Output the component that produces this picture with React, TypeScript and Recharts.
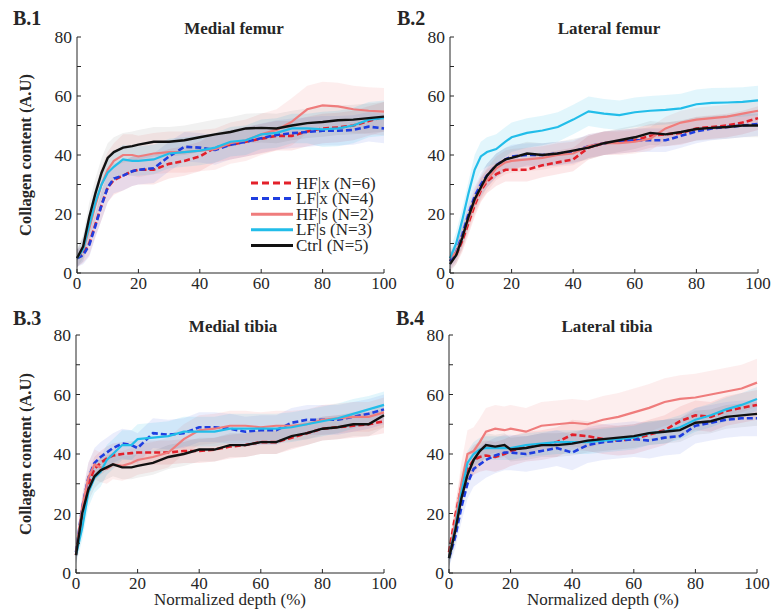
import React from "react";
import { Area, ComposedChart, Label, Line, XAxis, YAxis } from "recharts";

const FONT = "'Liberation Serif', 'DejaVu Serif', serif";
const INK = "#262626";

const depth = [0, 2, 4, 6, 8, 10, 12, 15, 18, 20, 25, 30, 35, 40, 45, 50, 55, 60, 65, 70, 75, 80, 85, 90, 95, 100];
const xTicks = [0, 20, 40, 60, 80, 100];
const yTicks = [0, 10, 20, 30, 40, 50, 60, 70, 80];

// Medial femur
const mfHFx = [5, 6.5, 10, 16.5, 23, 29, 31.5, 33, 34.5, 35, 35, 37, 38, 39.5, 42.5, 43.5, 44.5, 45.5, 46.5, 46.5, 48, 49, 49.3, 50, 51.5, 53];
const mfLFx = [5, 6, 9.5, 16, 23, 29, 32, 33, 34.5, 35, 35.5, 39.5, 42.8, 42.5, 41.7, 43.5, 44.5, 45.7, 46.8, 47.4, 47.8, 48.2, 48.2, 48.5, 49.6, 49];
const mfHFs = [5, 8, 15, 23, 30, 35, 38, 40, 40, 39.5, 40.5, 41, 41, 41.5, 42, 44, 45, 47, 48.5, 51.3, 55.5, 56.8, 56.5, 55.5, 55, 54.7];
const mfLFs = [5, 8, 16, 24, 30, 34, 36, 38.5, 38, 38, 38.5, 40.5, 41, 41.5, 42.5, 44.5, 45, 47, 47.5, 49, 49, 48.7, 49, 50, 52, 52.5];
const mfCtrl = [5, 9, 19, 27, 34, 39, 41, 42.5, 43, 43.5, 44.5, 44.5, 45, 46, 47, 47.8, 49, 49.2, 49, 50, 50.8, 51.2, 51.8, 52, 52.5, 53];
const mfHFxSd = [3, 3, 4, 4, 5, 5, 5, 5, 5, 5, 5, 5, 5, 5, 5, 5, 5, 5, 5, 5, 5, 5, 5, 5, 5, 5];
const mfLFxSd = [3, 3, 4, 4, 5, 5, 5, 5, 5, 5, 5, 5, 5, 5, 5, 5, 5, 5, 5, 5, 5, 5, 5, 5, 5, 5];
const mfHFsSd = [3, 4, 5, 6, 6, 6, 6, 7, 7, 7, 7, 7, 7, 7, 7, 7, 7, 7, 7, 8, 8, 8, 8, 8, 8, 8];
const mfLFsSd = [3, 4, 5, 5, 5, 5, 5, 5, 5, 5, 5, 5, 5, 5, 5, 5, 5, 5, 5, 5, 5, 6, 6, 6, 6, 6];
const mfCtrlSd = [3, 4, 5, 5, 5, 5, 5, 5, 5, 5, 5, 5, 5, 5, 5, 5, 5, 5, 5, 5, 5, 5, 5, 5, 5, 5];

// Lateral femur
const lfHFx = [4, 6, 11, 17, 23, 28, 31, 33.5, 35, 35, 35, 36.5, 37.5, 38.5, 42.5, 44, 44.5, 45, 46.5, 47, 47.5, 49, 49.5, 50, 51, 52.5];
const lfLFx = [4, 7, 13, 20, 26, 30, 33, 36.5, 38.5, 39.5, 40, 40, 40.5, 41, 43, 44, 44.5, 45, 45, 45, 46.5, 48, 49, 49.5, 50, 50.5];
const lfHFs = [5, 7, 12, 18, 24, 28.5, 31.5, 35.5, 37.5, 38, 38.5, 39, 40, 40.5, 43, 44, 44, 44.5, 45.5, 49, 51, 52, 52.5, 53, 54, 55];
const lfLFs = [5, 10, 18, 27, 35, 39.5, 41, 42, 44.5, 46, 47.5, 48.3, 49.5, 52, 54.8, 54, 53.5, 54.5, 55, 55.3, 55.8, 57.2, 57.7, 57.8, 58, 58.5];
const lfCtrl = [3, 6, 12, 19, 25, 29, 33, 36.5, 38.5, 39, 40.5, 40, 40.5, 41.5, 42.5, 44, 45, 46, 47.5, 47, 47.8, 48.8, 49.2, 49.5, 50, 50];
const lfHFxSd = [3, 3, 4, 4, 4, 4, 4, 4, 4, 4, 4, 4, 4, 4, 4, 4, 4, 4, 4, 4, 4, 4, 4, 4, 4, 4];
const lfLFxSd = [3, 3, 4, 4, 4, 4, 4, 4, 4, 4, 4, 4, 4, 4, 4, 4, 4, 4, 4, 4, 4, 4, 4, 4, 4, 4];
const lfHFsSd = [3, 3, 4, 4, 4, 4, 4, 4, 4, 4, 4, 4, 4, 4, 4, 4, 4, 4, 4, 4, 4, 4, 4, 4, 4, 4];
const lfLFsSd = [3, 4, 4, 4, 5, 5, 5, 5, 5, 5, 5, 5, 5, 5, 5, 5, 5, 5, 5, 5, 5, 5, 5, 5, 5, 5];
const lfCtrlSd = [3, 3, 4, 4, 4, 4, 4, 4, 4, 4, 4, 4, 4, 4, 4, 4, 4, 4, 4, 4, 4, 4, 4, 4, 4, 4];

// Medial tibia
const mtHFx = [6, 20, 30, 35, 37, 38.5, 39.5, 40, 40.3, 40.5, 40.5, 40.5, 41, 41, 41.5, 42.5, 43, 44, 44, 45.5, 47, 48.5, 49, 49.5, 50, 51];
const mtLFx = [7, 22, 32, 37, 39, 40.5, 42, 43.5, 43, 42, 47, 46.5, 47, 49, 49, 48.5, 47.5, 48, 48, 50.5, 51.5, 51.5, 51.5, 52.5, 53.5, 55];
const mtHFs = [7, 22, 32, 36.5, 35.5, 35, 36.5, 36, 37, 38, 39, 40.5, 45, 48, 48.5, 49.5, 49.5, 49, 49.5, 49.5, 50, 51.5, 52, 52.5, 52.5, 54];
const mtLFs = [6, 15, 27, 32, 34, 38, 40, 43, 43, 45, 45.5, 46, 47.5, 47.5, 47.5, 48.5, 48.5, 48.5, 48.5, 49, 50, 51, 52, 53.5, 55, 56.5];
const mtCtrl = [6, 20, 28, 32.5, 34.5, 35.5, 36.5, 35.5, 35.5, 36, 37, 39, 40, 41.5, 41.5, 43, 43, 44, 44, 46, 47, 48.5, 49, 50, 50, 53];
const mtHFxSd = [3, 4, 4, 4, 4, 4, 4, 4, 4, 4, 4, 4, 4, 4, 4, 4, 4, 4, 4, 4, 4, 4, 4, 4, 4, 4];
const mtLFxSd = [3, 4, 5, 5, 5, 5, 5, 5, 5, 5, 5, 5, 5, 5, 5, 5, 5, 5, 5, 5, 5, 5, 5, 5, 5, 5];
const mtHFsSd = [3, 4, 5, 5, 5, 5, 5, 5, 5, 5, 5, 5, 5, 5, 5, 5, 5, 5, 5, 5, 5, 5, 5, 5, 5, 5];
const mtLFsSd = [3, 4, 5, 5, 5, 5, 5, 5, 5, 5, 5, 5, 5, 5, 5, 5, 5, 5, 5, 5, 5, 5, 5, 5, 4.5, 4.5];
const mtCtrlSd = [3, 4, 4, 4, 4, 4, 4, 4, 4, 4, 4, 4, 4, 4, 4, 4, 4, 4, 4, 4, 4, 4, 4, 4, 4, 4];

// Lateral tibia
const ltHFx = [7, 19, 29, 35, 38, 39, 39.5, 39, 40, 41, 42.5, 43, 44, 46.5, 46, 45, 44.5, 45, 46.5, 48, 51, 53, 52.5, 54.5, 55.5, 56.5];
const ltLFx = [5, 12, 22, 30, 35, 36.5, 38, 39.5, 40.5, 40.5, 40, 41, 42, 40.5, 43, 44, 44.5, 45, 44.5, 45.5, 46, 49.5, 50.5, 51.5, 52, 52];
const ltHFs = [5, 17, 30, 40, 41, 44, 47.5, 48.5, 48, 48.5, 47.5, 49.5, 50, 50.5, 50, 51.5, 52.5, 54, 55.5, 57.5, 58.5, 59, 60, 61, 62, 64];
const ltLFs = [5, 15, 27, 37, 40, 41.5, 42, 42, 42, 42, 43, 43.5, 44, 44, 44, 44.5, 45, 45.5, 47, 47.5, 49, 51.5, 53, 55, 56.5, 58.5];
const ltCtrl = [5, 14, 25, 33, 38, 41, 43, 42.5, 43, 41.5, 42, 43, 43, 43.5, 44.5, 45, 45.5, 46, 47, 47.5, 48, 50.5, 51, 52.5, 53, 53.5];
const ltHFxSd = [3, 4, 5, 5, 5, 5, 5, 5, 5, 5, 5, 5, 5, 5, 5, 5, 5, 5, 5, 5, 5, 5, 5, 5, 5, 5];
const ltLFxSd = [3, 4, 5, 5, 6, 6, 6, 6, 6, 6, 6, 6, 6, 6, 6, 6, 6, 6, 6, 6, 6, 6, 6, 6, 6, 6];
const ltHFsSd = [3, 5, 7, 8, 8, 8, 8, 8, 8, 8, 8, 8, 8, 8, 8, 8, 8, 8, 8, 8, 8, 8, 8, 8, 8, 8];
const ltLFsSd = [3, 4, 4, 4, 4, 4, 4, 4, 4, 4, 4, 4, 4, 4, 4, 4, 4, 4, 4, 4, 4, 4, 4, 4, 4, 4];
const ltCtrlSd = [3, 4, 4, 4, 4, 4, 4, 4, 4, 4, 4, 4, 4, 4, 4, 4, 4, 4, 4, 4, 4, 4, 4, 4, 4, 4];

const series = [
  { key: "hfx", name: "HF|x (N=6)", color: "#e3202a", dash: "6 3", width: 2.6, band: 0.1 },
  { key: "lfx", name: "LF|x (N=4)", color: "#1f3ee0", dash: "6 3", width: 2.6, band: 0.09 },
  { key: "hfs", name: "HF|s (N=2)", color: "#ef7c7c", dash: undefined, width: 2.2, band: 0.13 },
  { key: "lfs", name: "LF|s (N=3)", color: "#22bde9", dash: undefined, width: 2.2, band: 0.13 },
  { key: "ctrl", name: "Ctrl (N=5)", color: "#111111", dash: undefined, width: 2.4, band: 0.06 },
];

type Row = Record<string, number | number[]>;

function buildRows(means: Record<string, number[]>, sds: Record<string, number[]>): Row[] {
  return depth.map((d, i) => {
    const row: Row = { depth: d };
    series.forEach((s) => {
      const m = means[s.key][i];
      const sd = sds[s.key][i];
      row[s.key] = m;
      row[s.key + "Band"] = [m - sd, m + sd];
    });
    return row;
  });
}

// axisW / axisH: space left of / below the plot area (where the tick labels sit)
const panels = [
  {
    id: "B.1", title: "Medial femur", left: 0, top: 0, width: 400, height: 300,
    plotTop: 37, right: 16, axisW: 77, axisH: 27,
    rows: buildRows(
      { hfx: mfHFx, lfx: mfLFx, hfs: mfHFs, lfs: mfLFs, ctrl: mfCtrl },
      { hfx: mfHFxSd, lfx: mfLFxSd, hfs: mfHFsSd, lfs: mfLFsSd, ctrl: mfCtrlSd }
    ),
    yLabel: true, xLabel: false, letterX: 13, letterY: 25, titleX: 234, titleY: 34,
  },
  {
    id: "B.2", title: "Lateral femur", left: 380, top: 0, width: 393, height: 300,
    plotTop: 37, right: 15, axisW: 70, axisH: 27,
    rows: buildRows(
      { hfx: lfHFx, lfx: lfLFx, hfs: lfHFs, lfs: lfLFs, ctrl: lfCtrl },
      { hfx: lfHFxSd, lfx: lfLFxSd, hfs: lfHFsSd, lfs: lfLFsSd, ctrl: lfCtrlSd }
    ),
    yLabel: false, xLabel: false, letterX: 397, letterY: 25, titleX: 609, titleY: 34,
  },
  {
    id: "B.3", title: "Medial tibia", left: 0, top: 300, width: 400, height: 309,
    plotTop: 35, right: 16, axisW: 76, axisH: 36,
    rows: buildRows(
      { hfx: mtHFx, lfx: mtLFx, hfs: mtHFs, lfs: mtLFs, ctrl: mtCtrl },
      { hfx: mtHFxSd, lfx: mtLFxSd, hfs: mtHFsSd, lfs: mtLFsSd, ctrl: mtCtrlSd }
    ),
    yLabel: true, xLabel: true, letterX: 13, letterY: 325, titleX: 233, titleY: 332,
  },
  {
    id: "B.4", title: "Lateral tibia", left: 380, top: 300, width: 393, height: 309,
    plotTop: 35, right: 16, axisW: 69, axisH: 36,
    rows: buildRows(
      { hfx: ltHFx, lfx: ltLFx, hfs: ltHFs, lfs: ltLFs, ctrl: ltCtrl },
      { hfx: ltHFxSd, lfx: ltLFxSd, hfs: ltHFsSd, lfs: ltLFsSd, ctrl: ltCtrlSd }
    ),
    yLabel: false, xLabel: true, letterX: 396, letterY: 325, titleX: 607, titleY: 332,
  },
];

const YTick = (props: any) => {
  const { x, y, payload } = props;
  const v = payload.value;
  return (
    <g>
      <line x1={x} y1={y} x2={x + 4} y2={y} stroke={INK} strokeWidth={1} />
      {v % 20 === 0 && (
        <text x={x - 5} y={y} dy={6} textAnchor="end" fontSize={17.5} fontFamily={FONT} fill={INK}>
          {v}
        </text>
      )}
    </g>
  );
};

const XTick = (props: any) => {
  const { x, y, payload } = props;
  return (
    <g>
      <line x1={x} y1={y} x2={x} y2={y - 4} stroke={INK} strokeWidth={1} />
      <text x={x} y={y + 16} textAnchor="middle" fontSize={17} fontFamily={FONT} fill={INK}>
        {payload.value}
      </text>
    </g>
  );
};

function Panel({ p }: { p: (typeof panels)[number] }) {
  const midY = p.plotTop + (p.height - p.plotTop - p.axisH) / 2;
  const midX = p.axisW + (p.width - p.axisW - p.right) / 2;
  return (
    <ComposedChart
      width={p.width}
      height={p.height}
      data={p.rows}
      margin={{ top: p.plotTop, right: p.right, bottom: 0, left: 0 }}
    >
      <XAxis
        dataKey="depth"
        type="number"
        domain={[0, 100]}
        ticks={xTicks}
        tick={XTick}
        tickSize={0}
        tickMargin={0}
        tickLine={false}
        height={p.axisH}
        axisLine={{ stroke: INK, strokeWidth: 1 }}
      >
        {p.xLabel && (
          <Label
            value="Normalized depth (%)"
            content={() => (
              <text x={midX} y={p.height - 4} textAnchor="middle" fontSize={17} fontFamily={FONT} fill={INK}>
                Normalized depth (%)
              </text>
            )}
          />
        )}
      </XAxis>
      <YAxis
        type="number"
        domain={[0, 80]}
        ticks={yTicks}
        tick={YTick}
        tickSize={0}
        tickMargin={0}
        tickLine={false}
        width={p.axisW}
        axisLine={{ stroke: INK, strokeWidth: 1 }}
      >
        {p.yLabel && (
          <Label
            value="Collagen content (A.U)"
            content={() => (
              <text
                x={31}
                y={midY}
                transform={`rotate(-90, 31, ${midY})`}
                textAnchor="middle"
                fontSize={16.5}
                fontWeight="bold"
                fontFamily={FONT}
                fill={INK}
              >
                Collagen content (A.U)
              </text>
            )}
          />
        )}
      </YAxis>
      {series.map((s) => (
        <Area
          key={s.key + "Band"}
          dataKey={s.key + "Band"}
          stroke="none"
          fill={s.color}
          fillOpacity={s.band}
          isAnimationActive={false}
          legendType="none"
          activeDot={false}
        />
      ))}
      {series.map((s) => (
        <Line
          key={s.key}
          dataKey={s.key}
          name={s.name}
          stroke={s.color}
          strokeWidth={s.width}
          strokeDasharray={s.dash}
          dot={false}
          isAnimationActive={false}
        />
      ))}
    </ComposedChart>
  );
}

export default function App() {
  const legendTop = 183;
  const legendStep = 15.6;
  return (
    <div style={{ position: "absolute", left: 0, top: 0, width: 773, height: 609, background: "#fff" }}>
      {panels.map((p) => (
        <div key={p.id} style={{ position: "absolute", left: p.left, top: p.top }}>
          <Panel p={p} />
        </div>
      ))}
      <svg
        width={773}
        height={609}
        style={{ position: "absolute", left: 0, top: 0, pointerEvents: "none" }}
        fontFamily={FONT}
      >
        {panels.map((p) => (
          <g key={p.id}>
            <text x={p.letterX} y={p.letterY} fontSize={20} fontWeight="bold" fill={INK}>
              {p.id}
            </text>
            <text x={p.titleX} y={p.titleY} textAnchor="middle" fontSize={17} fontWeight="bold" fill={INK}>
              {p.title}
            </text>
          </g>
        ))}
        {series.map((s, i) => {
          const y = legendTop + i * legendStep;
          return (
            <g key={s.key}>
              <line x1={251} x2={293} y1={y} y2={y} stroke={s.color} strokeWidth={3} strokeDasharray={s.dash ? "7 4" : undefined} />
              <text x={296} y={y + 5.5} fontSize={17} fill={INK}>
                {s.name}
              </text>
            </g>
          );
        })}
      </svg>
    </div>
  );
}
